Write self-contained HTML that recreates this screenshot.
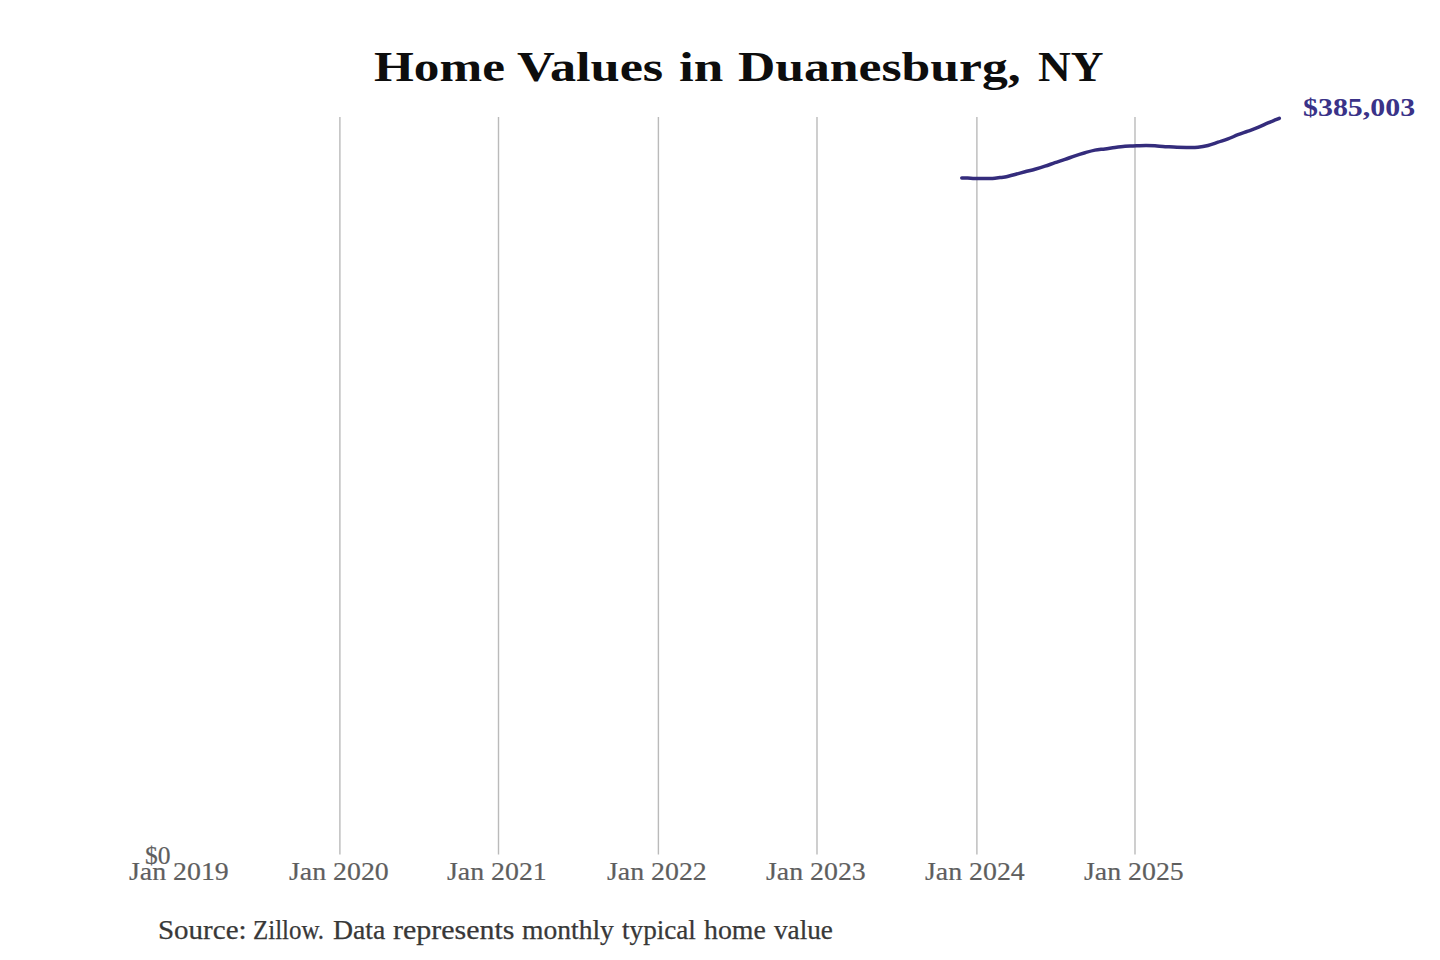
<!DOCTYPE html>
<html>
<head>
<meta charset="utf-8">
<style>
html,body{margin:0;padding:0;background:#fff;}
body{width:1440px;height:960px;overflow:hidden;position:relative;}
.t{position:absolute;white-space:nowrap;line-height:1;transform-origin:0 0;font-family:"Liberation Serif",serif;}
.ti{top:45.1px;font-size:43.2px;font-weight:bold;color:#0d0d0d;}
#val{left:1303.3px;top:94.8px;font-size:25.6px;font-weight:bold;color:#3a3288;transform:scaleX(1.168);}
.xl{top:858.5px;font-size:25.8px;color:#5e5e5e;-webkit-text-stroke:0.2px #5e5e5e;transform:scaleX(1.079);}
#zero{left:145px;top:842.7px;font-size:25.8px;color:#5e5e5e;-webkit-text-stroke:0.2px #5e5e5e;transform:scaleX(0.99);}
.src{top:916.6px;font-size:26.5px;color:#383838;-webkit-text-stroke:0.25px #383838;}
svg{position:absolute;left:0;top:0;}
</style>
</head>
<body>
<svg width="1440" height="960" viewBox="0 0 1440 960">
<g stroke="#bababa" stroke-width="1.4" fill="none">
<line x1="339.9" y1="117" x2="339.9" y2="854.5"/>
<line x1="498.5" y1="117" x2="498.5" y2="854.5"/>
<line x1="658.4" y1="117" x2="658.4" y2="854.5"/>
<line x1="817.0" y1="117" x2="817.0" y2="854.5"/>
<line x1="976.9" y1="117" x2="976.9" y2="854.5"/>
<line x1="1135.0" y1="117" x2="1135.0" y2="854.5"/>
</g>
<path id="ln" fill="none" stroke="#342c7c" stroke-width="3.5" stroke-linecap="round" stroke-linejoin="round" d="M961.8,177.90 C962.3,177.91 963.1,177.87 965.0,177.95 C966.9,178.03 969.7,178.30 973.0,178.40 C976.3,178.50 981.8,178.55 985.0,178.55 C988.2,178.55 990.0,178.56 992.5,178.40 C995.0,178.24 997.9,177.84 1000.0,177.60 C1002.1,177.36 1002.5,177.47 1005.0,176.95 C1007.5,176.42 1011.7,175.31 1015.0,174.45 C1018.3,173.59 1021.7,172.67 1025.0,171.80 C1028.3,170.92 1031.7,170.13 1035.0,169.20 C1038.3,168.27 1041.7,167.28 1045.0,166.20 C1048.3,165.12 1051.7,163.82 1055.0,162.70 C1058.3,161.57 1061.7,160.60 1065.0,159.45 C1068.3,158.30 1071.7,156.92 1075.0,155.80 C1078.3,154.67 1081.7,153.65 1085.0,152.70 C1088.3,151.75 1091.7,150.73 1095.0,150.10 C1098.3,149.47 1101.7,149.34 1105.0,148.90 C1108.3,148.46 1111.7,147.88 1115.0,147.45 C1118.3,147.02 1122.0,146.55 1125.0,146.30 C1128.0,146.05 1129.5,146.09 1133.0,145.95 C1136.5,145.81 1142.0,145.45 1146.0,145.45 C1150.0,145.45 1153.5,145.74 1157.0,145.95 C1160.5,146.16 1163.7,146.47 1167.0,146.70 C1170.3,146.92 1173.5,147.17 1177.0,147.30 C1180.5,147.42 1184.5,147.47 1188.0,147.45 C1191.5,147.43 1194.7,147.53 1198.0,147.20 C1201.3,146.87 1204.7,146.28 1208.0,145.45 C1211.3,144.62 1214.7,143.28 1218.0,142.20 C1221.3,141.12 1224.7,140.20 1228.0,138.95 C1231.3,137.70 1234.7,135.99 1238.0,134.70 C1241.3,133.41 1244.7,132.41 1248.0,131.20 C1251.3,129.99 1254.7,128.82 1258.0,127.45 C1261.3,126.08 1265.0,124.24 1268.0,122.95 C1271.0,121.66 1274.1,120.48 1276.0,119.70 C1277.9,118.92 1278.8,118.53 1279.3,118.30"/>
</svg>
<div class="t ti" style="left:373.7px;transform:scaleX(1.187)">Home</div>
<div class="t ti" style="left:517.0px;transform:scaleX(1.210)">Values</div>
<div class="t ti" style="left:678.7px;transform:scaleX(1.230)">in</div>
<div class="t ti" style="left:738.3px;transform:scaleX(1.196)">Duanesburg,</div>
<div class="t ti" style="left:1038.1px;transform:scaleX(1.050)">NY</div>
<div class="t" id="val">$385,003</div>
<div class="t" id="zero">$0</div>
<div class="t xl" style="left:128.9px">Jan 2019</div>
<div class="t xl" style="left:288.6px">Jan 2020</div>
<div class="t xl" style="left:447.2px">Jan 2021</div>
<div class="t xl" style="left:607.1px">Jan 2022</div>
<div class="t xl" style="left:765.7px">Jan 2023</div>
<div class="t xl" style="left:925.2px">Jan 2024</div>
<div class="t xl" style="left:1083.7px">Jan 2025</div>
<div class="t src" style="left:157.6px;transform:scaleX(1.094)">Source:</div>
<div class="t src" style="left:252.6px;transform:scaleX(0.940)">Zillow.</div>
<div class="t src" style="left:333.2px;transform:scaleX(1.047)">Data</div>
<div class="t src" style="left:393.2px;transform:scaleX(1.131)">represents</div>
<div class="t src" style="left:522.2px;transform:scaleX(1.040)">monthly</div>
<div class="t src" style="left:622.3px;transform:scaleX(1.025)">typical</div>
<div class="t src" style="left:704.3px;transform:scaleX(1.050)">home</div>
<div class="t src" style="left:774.4px;transform:scaleX(1.027)">value</div>
</body>
</html>
